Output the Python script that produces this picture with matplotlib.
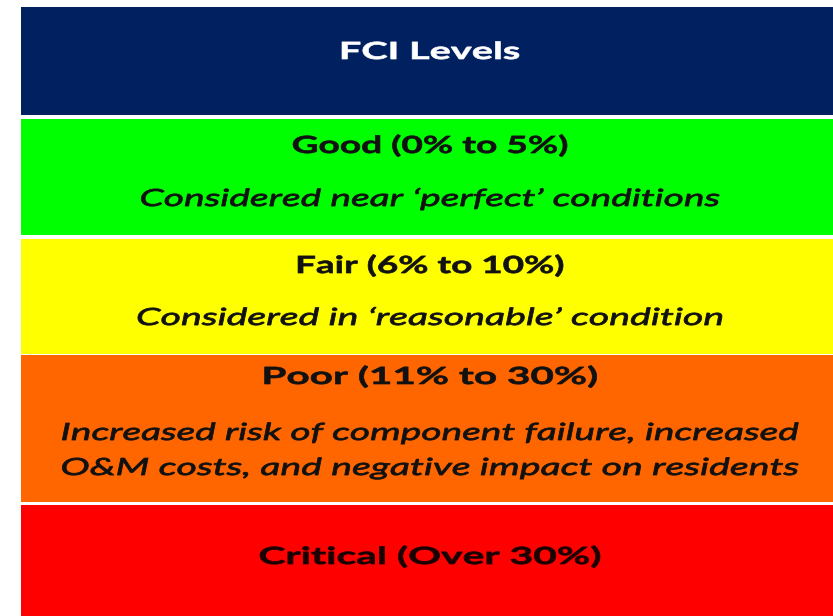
import matplotlib
matplotlib.use("Agg")
from matplotlib import pyplot as plt
from matplotlib.patheffects import AbstractPathEffect
from matplotlib.transforms import Affine2D

# table content
levels = ["FCI Levels", "Good (0% to 5%)", "Fair (6% to 10%)", "Poor (11% to 30%)", "Critical (Over 30%)"]
notes = [
    "",
    "Considered near \u2018perfect\u2019 conditions",
    "Considered in \u2018reasonable\u2019 condition",
    "Increased risk of component failure, increased\nO&M costs, and negative impact on residents",
    "",
]
colors = ["#002060", "#00FF00", "#FFFF00", "#FF6600", "#FF0000"]
text_colors = ["white", "#111111", "#111111", "#111111", "#1a0000"]

# layout (pixels, top -> bottom)
band_top = [7, 119, 239, 355, 505]
band_bot = [115, 235, 354, 502, 625]
title_base = [59, 153, 273, 384, 564]
title_w = [177, 274, 265, 332, 340]
note_base = [0, 206, 325, 440, 0]
note_w = [0, 578, 584, 736, 0]
line_gap = 35


class FitWidth(AbstractPathEffect):
    # the source table is stretched sideways: widen each glyph line to a given pixel width
    def __init__(self, width, stroke=0.0):
        super().__init__()
        self.width = width
        self.stroke = stroke

    def draw_path(self, renderer, gc, tpath, affine, rgbFace=None):
        ext = tpath.get_extents()
        sx = self.width / (ext.width * affine.get_matrix()[0, 0])
        mid = (ext.x0 + ext.x1) / 2
        stretch = Affine2D().translate(-mid, 0).scale(sx, 1).translate(mid, 0)
        gc0 = renderer.new_gc()
        gc0.copy_properties(gc)
        if self.stroke and rgbFace is not None:
            gc0.set_linewidth(self.stroke)
            gc0.set_foreground(rgbFace)
        renderer.draw_path(gc0, tpath, stretch + affine, rgbFace)
        gc0.restore()


plt.rcParams['font.family'] = ['Lato', 'DejaVu Sans']

fig = plt.figure(figsize=(8.33, 6.16), dpi=100)
ax = fig.add_axes([0, 0, 1, 1])
ax.set_xlim(0, 833)
ax.set_ylim(616, 0)
ax.axis("off")

left, right = 21, 840
cx = 430
for i in range(len(levels)):
    ax.fill_between([left, right], band_top[i], band_bot[i], color=colors[i], lw=0)
    ax.text(cx, title_base[i], levels[i], ha="center", va="baseline",
            fontsize=17, fontweight="bold", color=text_colors[i],
            path_effects=[FitWidth(title_w[i], 0.5)])
    if notes[i]:
        for k, line in enumerate(notes[i].split("\n")):
            ax.text(cx, note_base[i] + k * line_gap, line, ha="center", va="baseline",
                    fontsize=17, style="italic", color=text_colors[i],
                    path_effects=[FitWidth(note_w[i], 0.6)])

fig.savefig("out.png", dpi=100)
